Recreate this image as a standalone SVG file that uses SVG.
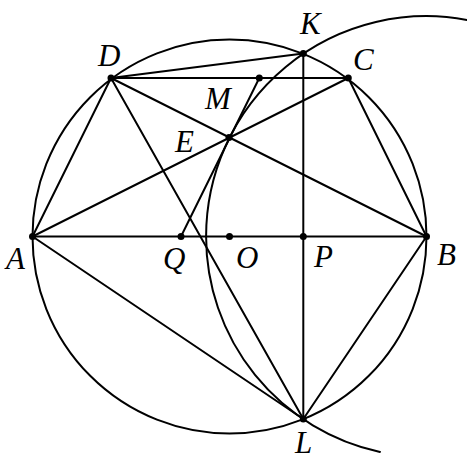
<svg xmlns="http://www.w3.org/2000/svg" width="467" height="459" viewBox="0 0 467 459">
<style>
.ln{stroke:#000;stroke-width:2;fill:none;stroke-linecap:round}
.pt{fill:#000}
.lb{font-family:"Liberation Serif",serif;font-style:italic;font-size:31px;fill:#000}
</style>
<rect width="467" height="459" fill="#fff"/>
<g id="connectors">
<circle class="ln" cx="229.5" cy="236.5" r="197"/>
<path class="ln" d="M467,19.9 A220.4,220.4 0 0 0 206.1,236.5 A220.4,220.4 0 0 0 380,451.9"/>
<line class="ln" x1="32.5" y1="236.5" x2="426.5" y2="236.5"/>
<line class="ln" x1="111" y1="78" x2="348.3" y2="78"/>
<line class="ln" x1="111" y1="78" x2="303.3" y2="53.5"/>
<line class="ln" x1="111" y1="78" x2="32.5" y2="236.5"/>
<line class="ln" x1="111" y1="78" x2="426.5" y2="236.5"/>
<line class="ln" x1="111" y1="78" x2="303.3" y2="419"/>
<line class="ln" x1="32.5" y1="236.5" x2="348.3" y2="78"/>
<line class="ln" x1="32.5" y1="236.5" x2="303.3" y2="419"/>
<line class="ln" x1="348.3" y1="78" x2="426.5" y2="236.5"/>
<line class="ln" x1="426.5" y1="236.5" x2="303.3" y2="419"/>
<line class="ln" x1="303.3" y1="53.5" x2="303.3" y2="419"/>
<line class="ln" x1="181" y1="236.5" x2="259.3" y2="78"/>
</g>
<g id="D"><circle class="pt" cx="111" cy="78" r="3.5"/><text class="lb" x="98" y="66">D</text></g>
<g id="M"><circle class="pt" cx="259.3" cy="78" r="3.5"/><text class="lb" x="205" y="109">M</text></g>
<g id="C"><circle class="pt" cx="348.3" cy="78" r="3.5"/><text class="lb" x="353" y="70">C</text></g>
<g id="K"><circle class="pt" cx="303.3" cy="53.5" r="3.5"/><text class="lb" x="300" y="34">K</text></g>
<g id="E"><circle class="pt" cx="229" cy="137.5" r="3.5"/><text class="lb" x="175" y="152">E</text></g>
<g id="A"><circle class="pt" cx="32.5" cy="236.5" r="3.5"/><text class="lb" x="6" y="269">A</text></g>
<g id="Q"><circle class="pt" cx="181" cy="236.5" r="3.5"/><text class="lb" x="163" y="269">Q</text></g>
<g id="O"><circle class="pt" cx="229.5" cy="236.5" r="3.5"/><text class="lb" x="236" y="268">O</text></g>
<g id="P"><circle class="pt" cx="303.3" cy="236.5" r="3.5"/><text class="lb" x="314" y="267">P</text></g>
<g id="B"><circle class="pt" cx="426.5" cy="236.5" r="3.5"/><text class="lb" x="437" y="265">B</text></g>
<g id="L"><circle class="pt" cx="303.3" cy="419" r="3.5"/><text class="lb" x="295" y="453">L</text></g>
</svg>
